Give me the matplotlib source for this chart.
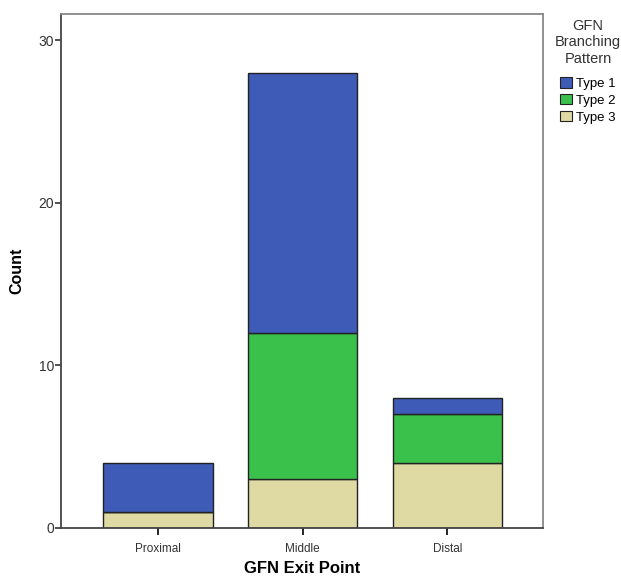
import matplotlib.pyplot as plt
from matplotlib.patches import Patch

plt.rcParams['font.family'] = ['Liberation Sans', 'DejaVu Sans']

# data
exit_points = ['Proximal', 'Middle', 'Distal']
type1 = [3, 16, 1]
type2 = [0, 9, 3]
type3 = [1, 3, 4]
series_names = ['Type 1', 'Type 2', 'Type 3']
colors = ['#3d5bb7', '#3ac14b', '#dfd9a4']

fig = plt.figure(figsize=(6.21, 5.8), dpi=100)
ax = fig.add_axes([0.0982, 0.0897, 0.7762, 0.8862])

x = range(len(exit_points))
w = 0.755
# stacked from bottom: type 3, type 2, type 1
bottom = [0] * len(exit_points)
for vals, col in [(type3, colors[2]), (type2, colors[1]), (type1, colors[0])]:
    ax.bar(x, vals, w, bottom=bottom, color=col, edgecolor='#222222', linewidth=1.0)
    bottom = [b + v for b, v in zip(bottom, vals)]

ax.set_xlim(-0.67, 2.66)
ax.set_ylim(0, 31.63)
ax.set_yticks([0, 10, 20, 30])
ax.set_xticks(list(x))
ax.set_xticklabels(exit_points, fontsize=8.5, color='#333333')
ax.tick_params(axis='y', labelsize=10, length=4, width=1.2, colors='#333333', pad=1)
ax.tick_params(axis='x', length=5, width=1.2, pad=6)

for s in ['left', 'bottom']:
    ax.spines[s].set_color('#444444')
    ax.spines[s].set_linewidth(1.3)
for s in ['top', 'right']:
    ax.spines[s].set_color('#888888')
    ax.spines[s].set_linewidth(1.3)

ax.set_ylabel('Count', fontsize=11.5, fontweight='bold', labelpad=10)
ax.set_xlabel('GFN Exit Point', fontsize=12, fontweight='bold', labelpad=4)

# legend
fig.text(0.947, 0.968, 'GFN\nBranching\nPattern', ha='center', va='top',
         fontsize=10.5, color='#333333', linespacing=1.25)
handles = [Patch(facecolor=c, edgecolor='#222222', linewidth=0.8) for c in colors]
fig.legend(handles, series_names, loc='upper left', bbox_to_anchor=(0.902, 0.868),
           frameon=False, fontsize=9.5, handlelength=0.9, handleheight=0.9,
           handletextpad=0.3, labelspacing=0.3, borderpad=0, borderaxespad=0)

fig.savefig('out.png', dpi=100)
